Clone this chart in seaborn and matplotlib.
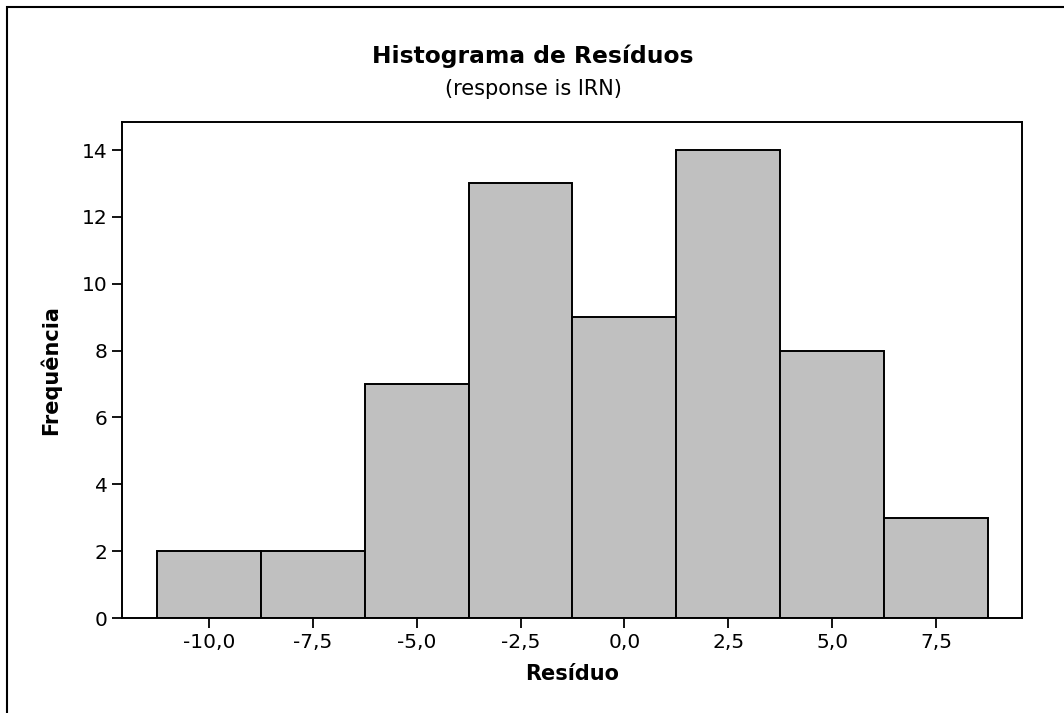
import matplotlib
matplotlib.use("Agg")
import matplotlib.pyplot as plt
import seaborn as sns
import numpy as np
from matplotlib.patches import Rectangle

bin_centers = [-10.0, -7.5, -5.0, -2.5, 0.0, 2.5, 5.0, 7.5]
counts = [2, 2, 7, 13, 9, 14, 8, 3]
bin_width = 2.5
x_ticks = [-10.0, -7.5, -5.0, -2.5, 0.0, 2.5, 5.0, 7.5]
y_ticks = [0, 2, 4, 6, 8, 10, 12, 14]

sns.set_theme(style="white")
plt.rcParams['font.family'] = ['DejaVu Sans']
plt.rcParams['text.color'] = 'black'
plt.rcParams['axes.labelcolor'] = 'black'

fig = plt.figure(figsize=(10.64, 7.13), dpi=100)
ax = fig.add_axes([122/1064, 1-618/713, (1022-122)/1064, (618-122)/713])

edges = [c - bin_width/2 for c in bin_centers] + [bin_centers[-1] + bin_width/2]
sns.histplot(x=bin_centers, weights=counts, bins=edges, ax=ax,
             color="#C0C0C0", edgecolor="black", linewidth=1.4, alpha=1.0)

ax.set_xlim(-12.094, 9.57)
ax.set_ylim(0, 14.84)
ax.set_xticks(x_ticks)
ax.set_xticklabels([f"{v:.1f}".replace(".", ",") for v in x_ticks], fontsize=14.5, color="black")
ax.set_yticks(y_ticks)
ax.set_yticklabels([str(v) for v in y_ticks], fontsize=14.5, color="black")
ax.tick_params(axis="both", direction="out", length=7.5, width=1.3, color="black",
               bottom=True, left=True, pad=3)
for s in ax.spines.values():
    s.set_visible(True)
    s.set_color("black")
    s.set_linewidth(1.4)

ax.set_xlabel("Resíduo", fontsize=15, fontweight="bold", labelpad=9)
ax.set_ylabel("Frequência", fontsize=15, fontweight="bold", labelpad=15)

fig.text(533/1064, 1-63/713, "Histograma de Resíduos", fontsize=16.8, fontweight="bold",
         ha="center", va="baseline")
fig.text(533/1064, 1-95/713, "(response is IRN)", fontsize=15, ha="center", va="baseline")

fig.patches.append(Rectangle((7/1064, -0.05), 1.2, 1-7/713+0.05, transform=fig.transFigure,
                             fill=False, edgecolor="black", linewidth=1.5))

fig.savefig("out.png", dpi=100)
